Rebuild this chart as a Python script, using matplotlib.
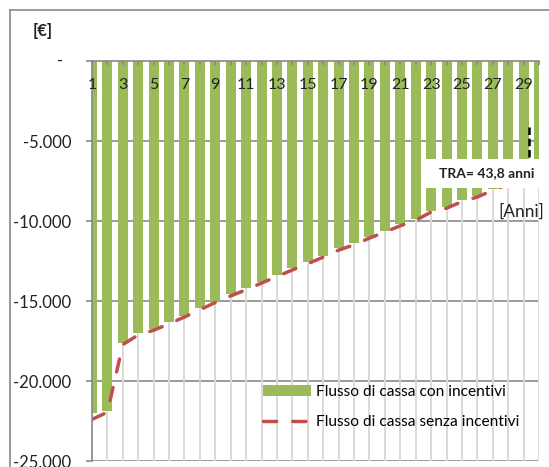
import numpy as np
import matplotlib
matplotlib.use("Agg")
import matplotlib.pyplot as plt
from matplotlib.lines import Line2D
from matplotlib.patches import Rectangle

plt.rcParams['font.family'] = ['Lato', 'DejaVu Sans']

# Annual cumulative cash flow [EUR]
anni = list(range(1, 31))
flusso_con_incentivi = [
    -22000, -21875, -17640, -17020, -16750, -16330, -15920, -15460, -15000, -14580,
    -14210, -13790, -13375, -12960, -12580, -12170, -11710, -11400, -10980, -10600,
    -10210, -9875, -9350, -9100, -8690, -8420, -8000, -7600, -7250, -6900,
]
flusso_senza_incentivi = [
    -22400, -21950, -17720, -17120, -16830, -16420, -16000, -15550, -15090, -14680,
    -14300, -13880, -13470, -13060, -12670, -12260, -11820, -11490, -11070, -10690,
    -10300, -9960, -9440, -9200, -8790, -8500, -8080, -7700, -7340, -7000,
]
y_ticks = [-25000, -20000, -15000, -10000, -5000, 0]
tra_anni = 43.8

W, H = 549, 467
GREEN = '#9BBB59'
RED = '#C0504D'
GRID_DARK = '#898989'
GRID_LIGHT = '#D9D9D9'
TXT = '#222222'

fig = plt.figure(figsize=(W / 100, H / 100), dpi=100)
ax = fig.add_axes([92 / W, 6 / H, 447 / W, 400 / H])

x = np.array(anni)
bars = ax.bar(x, flusso_con_incentivi, width=0.65, color=GREEN, zorder=2,
              label='Flusso di cassa con incentivi')
line, = ax.plot(x, flusso_senza_incentivi, color=RED, lw=2.5, dashes=(3.8, 4.6),
                dash_capstyle='round', zorder=3, label='Flusso di cassa senza incentivi')

ax.set_xlim(1, 30)
ax.set_ylim(-25000, 0)

# gridlines behind the bars
for yv in y_ticks[:-1]:
    ax.axhline(yv, color=GRID_DARK, lw=1.2, zorder=0)
for xv in x:
    ax.axvline(xv, color=GRID_LIGHT, lw=1.4, zorder=0)

for s in ['top', 'right']:
    ax.spines[s].set_visible(False)
ax.spines['bottom'].set_position(('data', 0))
ax.spines['bottom'].set_color(GRID_DARK)
ax.spines['bottom'].set_linewidth(1.2)
ax.spines['bottom'].set_zorder(4)
ax.spines['left'].set_color(GRID_DARK)
ax.spines['left'].set_linewidth(1.2)
ax.spines['left'].set_zorder(4)
ax.xaxis.set_zorder(4)
ax.yaxis.set_zorder(4)

ax.set_xticks(x)
ax.set_xticklabels([str(k) if k % 2 else '' for k in anni])
ax.tick_params(axis='x', direction='out', length=3, width=1.2, color=GRID_DARK,
               pad=9.5, labelsize=11.5, labelcolor=TXT)

def fmt(v):
    return '' if v == 0 else '-' + f"{abs(v):,}".replace(',', '.')

ax.set_yticks(y_ticks)
ax.set_yticklabels([fmt(v) for v in y_ticks])
ax.tick_params(axis='y', direction='out', length=4, width=1.2, color=GRID_DARK,
               pad=11, labelsize=12, labelcolor=TXT)

# zero label in accounting style
fig.text(60 / W, 1 - 61 / H, '-', ha='center', va='center', fontsize=12, color=TXT)

# unit labels
fig.text(43 / W, 1 - 31 / H, '[€]', ha='center', va='center', fontsize=12,
         fontweight='bold', color=TXT)
fig.text(521 / W, 1 - 212 / H, '[Anni]', ha='center', va='center', fontsize=12.5,
         color=TXT)

# payback time marker and label
ax.plot([29.35, 29.35], [-4100, -6150], color='black', lw=1.8, dashes=(3, 1.5),
        zorder=4, clip_on=False)
ax.add_patch(Rectangle((22.55, -7940), 8.2, 7940 - 6125, facecolor='white',
                       edgecolor='none', zorder=5, clip_on=False))
fig.text(487 / W, 1 - 173 / H, f"TRA= {str(tra_anni).replace('.', ',')} anni",
         ha='center', va='center', fontsize=10, fontweight='bold', color=TXT,
         zorder=6)

# legend
ax.legend(handles=[bars, line], loc='center left',
          bbox_to_anchor=(165 / 447, (461 - 407) / 400),
          frameon=False, fontsize=11.2, handlelength=3.08, handletextpad=0.33,
          labelspacing=1.06, borderaxespad=0)

# chart area border
fig.add_artist(Line2D([10 / W, 10 / W], [0, 1 - 10 / H], transform=fig.transFigure,
                      color=GRID_DARK, lw=1.2))
fig.add_artist(Line2D([10 / W, 1], [1 - 10 / H, 1 - 10 / H], transform=fig.transFigure,
                      color=GRID_DARK, lw=1.2))

fig.savefig('out.png', dpi=100)
